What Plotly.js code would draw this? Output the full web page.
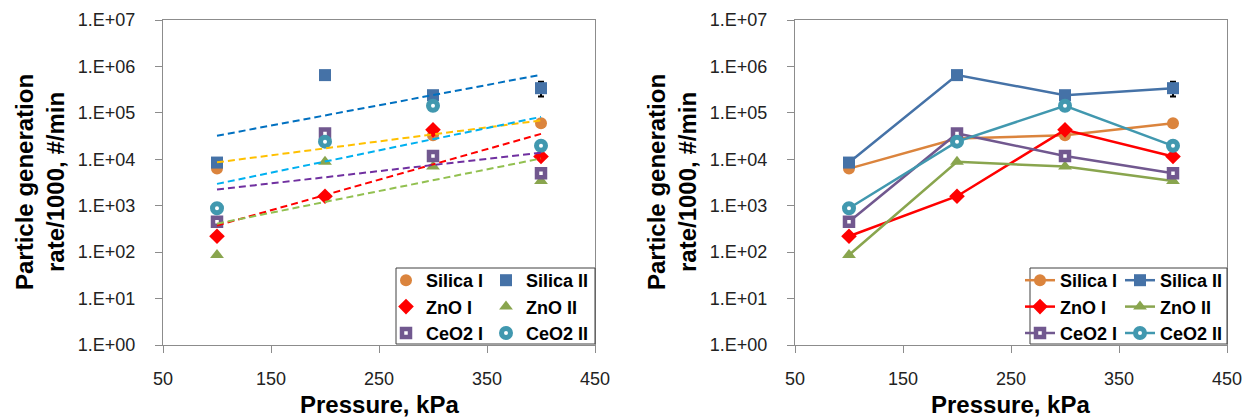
<!DOCTYPE html>
<html><head><meta charset="utf-8">
<script src="https://cdn.plot.ly/plotly-3.0.1.min.js"></script>
<style>html,body{margin:0;padding:0;background:#fff}</style>
</head><body><div id="chart" style="width:1253px;height:419px"></div>
<script>
// ---- data ----
const pressure = [100, 200, 300, 400];
const silicaI  = [6300, 28000, 33000, 60000];
const silicaII = [8500, 650000, 240000, 340000];
const znoI     = [220, 1600, 43000, 11500];
const znoII    = [87, 8800, 7000, 3400];
const ceo2I    = [450, 36000, 11800, 5000];
const ceo2II   = [880, 24000, 142000, 19500];
const silicaIIErrPlus  = [0, 0, 0, 130000];
const silicaIIErrMinus = [0, 0, 0, 115000];
const seriesNames = ['Silica I', 'Silica II', 'ZnO I', 'ZnO II', 'CeO2 I', 'CeO2 II'];
const yTickVals = [1, 10, 100, 1e3, 1e4, 1e5, 1e6, 1e7];
const yTickText = ['1.E+00', '1.E+01', '1.E+02', '1.E+03', '1.E+04', '1.E+05', '1.E+06', '1.E+07'];
const xTickVals = [50, 150, 250, 350, 450];
const yTitle = 'Particle generation<br>rate/1000, #/min';
const xTitle = 'Pressure, kPa';

// ---- styles ----
const W = 1253, H = 419;
const FONT = 'Liberation Sans, Arial, sans-serif';
const styles = [
  {y: silicaI,  color: '#DB843D', symbol: 'circle',      size: 12, lw: 0, fill: null,   trend: '#FFC000', col: 0},
  {y: silicaII, color: '#4572A7', symbol: 'square',      size: 12, lw: 0, fill: null,   trend: '#0070C0', col: 1, err: true},
  {y: znoI,     color: '#FF0000', symbol: 'diamond',     size: 12, lw: 0, fill: null,   trend: '#FF0000', col: 0},
  {y: znoII,    color: '#89A54E', symbol: 'triangle-up', size: 12, lw: 0, fill: null,   trend: '#92C050', col: 1},
  {y: ceo2I,    color: '#71588F', symbol: 'square',      size: 8,  lw: 4.5, fill: '#fff', trend: '#7030A0', col: 0},
  {y: ceo2II,   color: '#4198AF', symbol: 'circle',      size: 9,  lw: 5, fill: '#fff', trend: '#00B0F0', col: 1}
];

// exponential (log-linear) least-squares trendline, evaluated at the ends of the data
function expTrend(xs, ys) {
  const n = xs.length;
  const ly = ys.map(v => Math.log10(v));
  const mx = xs.reduce((a, b) => a + b, 0) / n;
  const my = ly.reduce((a, b) => a + b, 0) / n;
  let sxy = 0, sxx = 0;
  for (let i = 0; i < n; i++) { sxy += (xs[i] - mx) * (ly[i] - my); sxx += (xs[i] - mx) ** 2; }
  const b = sxy / sxx, a = my - b * mx;
  const ex = [xs[0], xs[n - 1]];
  return {x: ex, y: ex.map(x => Math.pow(10, a + b * x))};
}

const traces = [];
styles.forEach((s, i) => {
  const marker = {symbol: s.symbol, size: s.size, color: s.fill || s.color,
                  line: {color: s.color, width: s.lw}};
  const err = s.err ? {type: 'data', symmetric: false, array: silicaIIErrPlus,
                       arrayminus: silicaIIErrMinus, color: '#000', thickness: 2, width: 3} : undefined;
  traces.push({x: pressure, y: s.y, name: seriesNames[i], type: 'scatter', mode: 'markers',
               xaxis: 'x', yaxis: 'y', marker: marker, error_y: err,
               legend: s.col === 0 ? 'legend' : 'legend2', hoverinfo: 'x+y+name'});
  traces.push({x: pressure, y: s.y, name: seriesNames[i], type: 'scatter', mode: 'lines+markers',
               xaxis: 'x2', yaxis: 'y2', marker: marker, line: {color: s.color, width: 2.5},
               error_y: err, legend: s.col === 0 ? 'legend3' : 'legend4', hoverinfo: 'x+y+name'});
});
styles.forEach((s, i) => {
  const t = expTrend(pressure, s.y);
  traces.push({x: t.x, y: t.y, type: 'scatter', mode: 'lines', xaxis: 'x', yaxis: 'y',
               line: {color: s.trend, width: 2, dash: '7px,4px'}, showlegend: false,
               hoverinfo: 'skip', name: seriesNames[i] + ' trend'});
});

const axisLine = '#8c8c8c';
function xAx(d0, d1, anchor) {
  return {domain: [d0 / W, d1 / W], anchor: anchor, range: [50, 450], tickmode: 'array',
          tickvals: xTickVals, ticktext: xTickVals.map(String), showgrid: false, zeroline: false,
          showline: true, mirror: true, linecolor: axisLine, linewidth: 1,
          ticks: 'outside', ticklen: 7, tickcolor: axisLine, ticklabelstandoff: 10,
          tickfont: {size: 18, color: '#222', family: FONT}, fixedrange: true};
}
function yAx(anchor) {
  return {domain: [1 - 345 / H, 1 - 20 / H], anchor: anchor, type: 'log', range: [0, 7],
          tickmode: 'array', tickvals: yTickVals, ticktext: yTickText, showgrid: false,
          zeroline: false, showline: true, mirror: true, linecolor: axisLine, linewidth: 1,
          ticks: 'outside', ticklen: 7, tickcolor: axisLine, ticklabelstandoff: 16,
          tickfont: {size: 18, color: '#222', family: FONT}, fixedrange: true};
}
const legFont = {size: 18, color: '#000', family: FONT, weight: 'bold'};
function leg(xpx) {
  return {x: xpx / W, y: 1 - 307 / H, xanchor: 'left', yanchor: 'middle', orientation: 'v',
          bgcolor: 'rgba(0,0,0,0)', borderwidth: 0, font: legFont, traceorder: 'normal'};
}
const titleFont = {size: 24, color: '#000', family: FONT, weight: 'bold'};
const layout = {
  width: W, height: H, margin: {l: 0, r: 0, t: 0, b: 0},
  paper_bgcolor: '#fff', plot_bgcolor: '#fff', showlegend: true,
  font: {family: FONT, size: 18, color: '#222'},
  xaxis: xAx(163, 595, 'y'), yaxis: yAx('x'),
  xaxis2: xAx(795, 1227, 'y2'), yaxis2: yAx('x2'),
  legend: leg(386), legend2: leg(486), legend3: leg(1020), legend4: leg(1120),
  shapes: [
    {type: 'rect', xref: 'paper', yref: 'paper', x0: 396 / W, x1: 595 / W, y0: 1 - 344 / H, y1: 1 - 268 / H,
     line: {color: '#404040', width: 1}, fillcolor: 'rgba(0,0,0,0)', layer: 'above'},
    {type: 'rect', xref: 'paper', yref: 'paper', x0: 1030 / W, x1: 1227 / W, y0: 1 - 344 / H, y1: 1 - 268 / H,
     line: {color: '#404040', width: 1}, fillcolor: 'rgba(0,0,0,0)', layer: 'above'}
  ],
  annotations: [
    {text: yTitle, xref: 'paper', yref: 'paper', x: 40 / W, y: 1 - 182 / H, xanchor: 'center', yanchor: 'middle',
     textangle: -90, showarrow: false, font: titleFont},
    {text: yTitle, xref: 'paper', yref: 'paper', x: 672 / W, y: 1 - 182 / H, xanchor: 'center', yanchor: 'middle',
     textangle: -90, showarrow: false, font: titleFont},
    {text: xTitle, xref: 'paper', yref: 'paper', x: 379 / W, y: 1 - 404 / H, xanchor: 'center', yanchor: 'middle',
     showarrow: false, font: titleFont},
    {text: xTitle, xref: 'paper', yref: 'paper', x: 1011 / W, y: 1 - 404 / H, xanchor: 'center', yanchor: 'middle',
     showarrow: false, font: titleFont}
  ]
};
Plotly.newPlot('chart', traces, layout, {displayModeBar: false, staticPlot: true});
</script>
</body></html>
